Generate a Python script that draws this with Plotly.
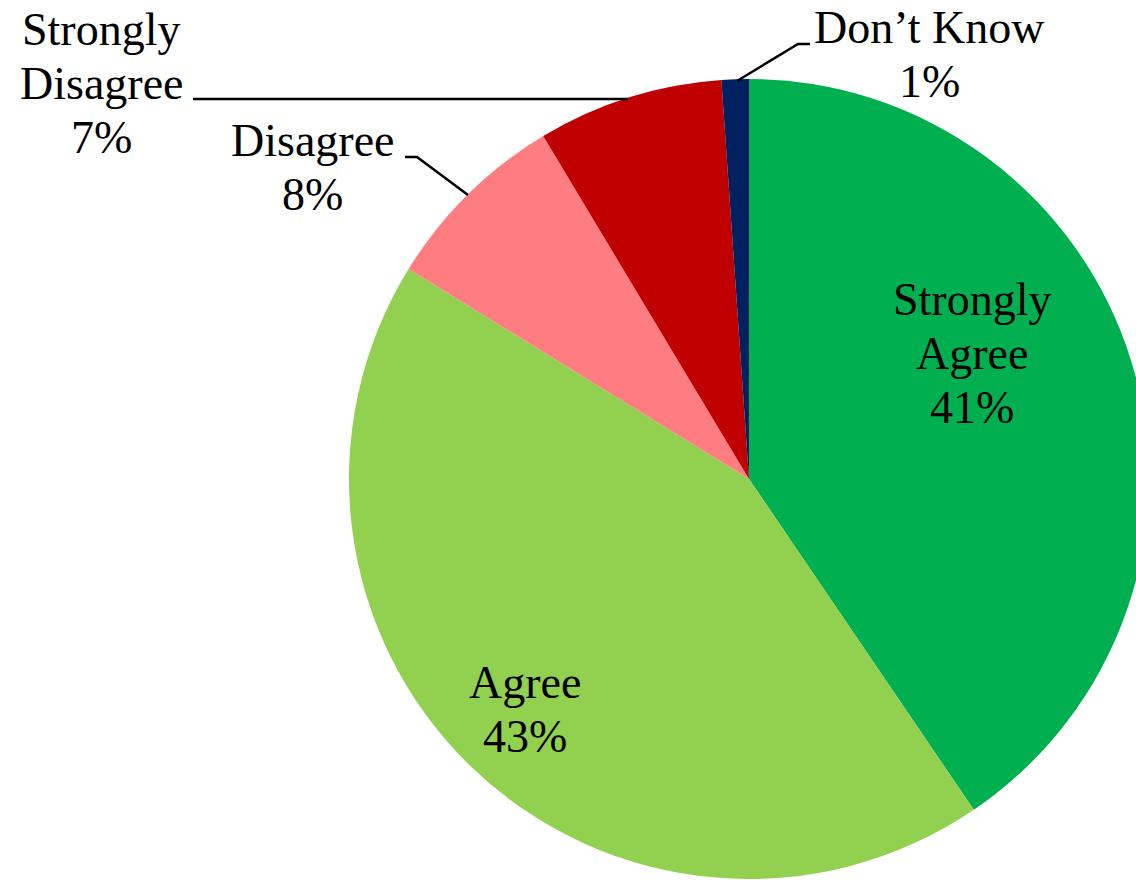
import plotly.graph_objects as go

categories = ["Strongly Agree", "Agree", "Disagree", "Strongly Disagree", "Don\u2019t Know"]
values = [40.5, 43.3, 7.6, 7.5, 1.1]
pct_labels = ["41%", "43%", "8%", "7%", "1%"]
colors = ["#00B050", "#92D050", "#FF7C80", "#C00000", "#002060"]

W, H = 1150, 880
FONT = "Liberation Serif, Times New Roman, serif"
FS = 46
LINE = 54

cx, cy, r = 749, 479, 400

def px(x):
    return x / W

def py(y):
    return 1 - y / H

fig = go.Figure(go.Pie(
    labels=categories, values=values, sort=False, direction="clockwise",
    rotation=0, marker=dict(colors=colors, line=dict(width=0)),
    textinfo="none", hoverinfo="label+percent", showlegend=False,
    domain=dict(x=[px(cx - r), px(cx + r)], y=[py(cy + r), py(cy - r)]),
))

# label blocks: (lines, center x, first baseline y)
label_lines = {
    "Strongly Agree": (["Strongly", "Agree", pct_labels[0]], 972, 317),
    "Agree": (["Agree", pct_labels[1]], 525, 700),
    "Disagree": (["Disagree", pct_labels[2]], 312, 158),
    "Strongly Disagree": (["Strongly", "Disagree", pct_labels[3]], 101, 47),
    "Don\u2019t Know": (["Don\u2019t Know", pct_labels[4]], 929, 45),
}

annotations = []
for name, (lines, x, b0) in label_lines.items():
    for i, t in enumerate(lines):
        b = b0 + i * LINE
        annotations.append(dict(
            x=px(x), y=py(b - 0.33 * FS - 2), xref="paper", yref="paper",
            text=t, showarrow=False, xanchor="center", yanchor="middle",
            font=dict(family=FONT, size=FS, color="black"),
        ))

leaders = [
    [(193, 99), (628, 99)],
    [(405, 157), (417, 157), (468, 195)],
    [(810, 44), (798, 44), (737, 81)],
]
shapes = []
for pts in leaders:
    path = "M " + " L ".join(f"{px(x)},{py(y)}" for x, y in pts)
    shapes.append(dict(type="path", xref="paper", yref="paper", path=path,
                       line=dict(color="black", width=2.5)))

fig.update_layout(
    width=W, height=H, margin=dict(l=0, r=0, t=0, b=0),
    paper_bgcolor="white", plot_bgcolor="white",
    annotations=annotations, shapes=shapes,
)

fig.write_html(
    "out.html",
    config={"displayModeBar": False},
    post_script="document.body.style.margin='0';document.body.style.overflow='hidden';",
)
